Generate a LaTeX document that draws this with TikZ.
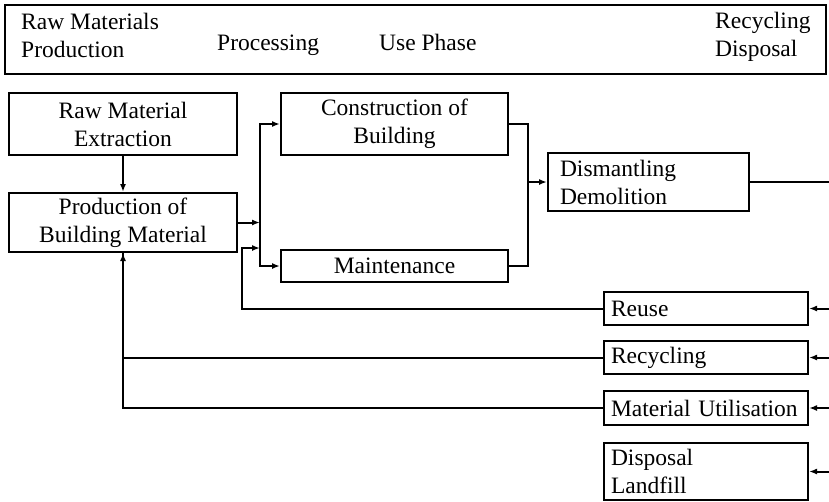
\documentclass[tikz,border=0pt]{standalone}
\usepackage{fontspec}
\setmainfont{Liberation Serif}
\usepackage{tikz}
\usetikzlibrary{arrows.meta,calc}
\tikzset{
    box/.style={
        rectangle,
        draw,
        line width=2pt,
        inner sep=0pt,
        align=center
    },
    leftbox/.style={
        box,
        align=left,
        inner xsep=7pt,
        text width=190pt,
        minimum width=204pt
    },
    phase/.style={
        anchor=west,
        align=left,
        inner sep=0pt
    },
    link/.style={
        line width=2pt
    },
    flow/.style={
        link,
        -{Latex[length=8pt,width=6pt]}
    }
}

\begin{document}
\begin{tikzpicture}[x=1pt,y=-1pt,font=\fontsize{23.5}{28}\selectfont]
    \useasboundingbox (0,0) rectangle (829,501);

    % Phases bar
    \node[box, minimum width=821, minimum height=69] (phases) at (415.5,39.5) {};
    \node[phase] (phRaw) at (21,35) {Raw Materials\\Production};
    \node[phase, anchor=base west] (phProc) at (217,50) {Processing};
    \node[phase, anchor=base west] (phUse) at (379,50) {Use Phase};
    \node[phase] (phEnd) at (715,37) {Recycling\\Disposal};

    % Production
    \node[box, minimum width=228, minimum height=62] (extract) at (123,124) {Raw Material\\Extraction};
    \node[box, minimum width=228, minimum height=59] (prodmat) at (123,222.5) {Production of\\Building Material};
    \draw[flow] (extract) -- (prodmat);

    % Use phase
    \node[box, minimum width=227, minimum height=62] (construct) at (394.5,124) {Construction of\\Building};
    \node[box, minimum width=227, minimum height=32] (maint) at (394.5,266) {Maintenance};
    \coordinate (split) at (260,222.5);
    \coordinate (backin) at (260,248);
    \coordinate (backturn) at (242,248);
    \draw[flow] (prodmat.east) -- (split);
    \draw[flow] (split) |- (construct.west);
    \draw[flow] (split) |- (maint.west);

    % End of life
    \node[leftbox, inner xsep=12pt, text width=177pt, minimum width=201pt, minimum height=58] (dism) at (648.5,182) {Dismantling\\Demolition};
    \coordinate (merge) at (528,182);
    \draw[link] (construct.east) -| (merge);
    \draw[link] (maint.east) -| (merge);
    \draw[flow] (merge) -- (dism.west);

    \node[leftbox, minimum height=33] (reuse) at (706,308.5) {Reuse};
    \node[leftbox, minimum height=33] (recyc) at (706,357.5) {Recycling};
    \node[leftbox, minimum height=34] (matu) at (706,408) {Material Utilisation};
    \node[leftbox, minimum height=57] (disp) at (706,471.5) {Disposal\\Landfill};

    % Loops back
    \draw[flow] (reuse.west) -| (backturn) -- (backin);
    \draw[flow] (recyc.west) -| (prodmat.south);
    \draw[link] (matu.west) -| (prodmat.south);

    % Right edge
    \coordinate (edge) at (829,0);
    \draw[link] (dism.east) -- (dism.east -| edge);
    \foreach \n in {reuse,recyc,matu,disp}
        \draw[flow] (\n.east -| edge) -- (\n.east);
\end{tikzpicture}
\end{document}
